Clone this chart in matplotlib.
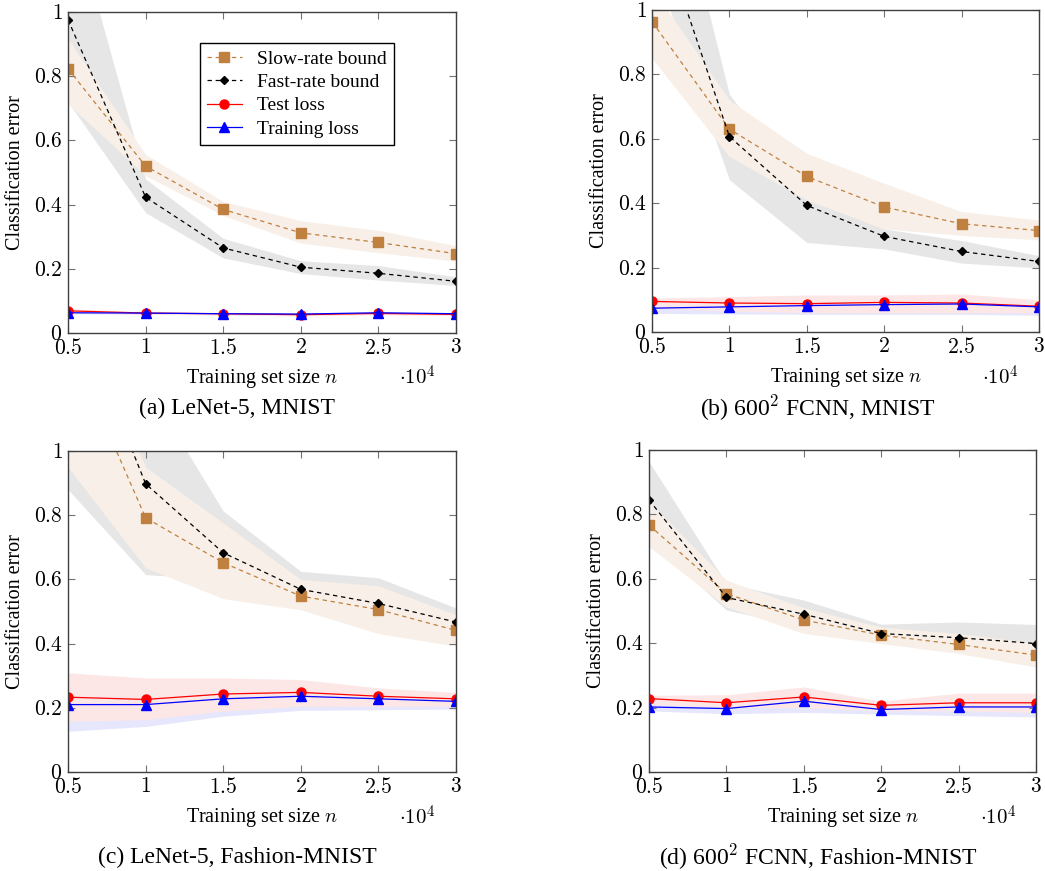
import numpy as np
import matplotlib
matplotlib.use("Agg")
import matplotlib.pyplot as plt
from matplotlib.ticker import FuncFormatter

plt.rcParams['font.family'] = ['Liberation Serif', 'DejaVu Serif']
plt.rcParams['mathtext.fontset'] = 'cm'

n = np.array([5000, 10000, 15000, 20000, 25000, 30000])

# (a) LeNet-5, MNIST
a_slow = [0.823, 0.520, 0.385, 0.312, 0.282, 0.247]
a_slow_lo = [0.714, 0.490, 0.366, 0.280, 0.250, 0.224]
a_slow_hi = [0.917, 0.556, 0.410, 0.350, 0.320, 0.272]
a_fast = [0.976, 0.423, 0.265, 0.205, 0.186, 0.161]
a_fast_lo = [0.720, 0.375, 0.234, 0.185, 0.165, 0.148]
a_fast_hi = [1.350, 0.480, 0.295, 0.225, 0.210, 0.175]
a_test = [0.069, 0.062, 0.060, 0.057, 0.061, 0.058]
a_test_lo = [0.062, 0.058, 0.056, 0.053, 0.057, 0.054]
a_test_hi = [0.076, 0.066, 0.064, 0.061, 0.065, 0.062]
a_train = [0.063, 0.062, 0.060, 0.059, 0.063, 0.060]
a_train_lo = [0.060, 0.059, 0.057, 0.056, 0.060, 0.057]
a_train_hi = [0.066, 0.065, 0.063, 0.062, 0.066, 0.063]

# (b) 600^2 FCNN, MNIST
b_slow = [0.964, 0.630, 0.483, 0.388, 0.336, 0.315]
b_slow_lo = [0.850, 0.545, 0.410, 0.320, 0.300, 0.286]
b_slow_hi = [1.070, 0.720, 0.555, 0.462, 0.374, 0.348]
b_fast = [1.319, 0.607, 0.393, 0.297, 0.250, 0.219]
b_fast_lo = [1.159, 0.473, 0.278, 0.258, 0.214, 0.199]
b_fast_hi = [1.700, 0.738, 0.420, 0.320, 0.284, 0.237]
b_test = [0.095, 0.090, 0.088, 0.092, 0.090, 0.080]
b_test_lo = [0.075, 0.065, 0.060, 0.060, 0.060, 0.060]
b_test_hi = [0.105, 0.110, 0.115, 0.115, 0.118, 0.100]
b_train = [0.074, 0.078, 0.082, 0.085, 0.087, 0.078]
b_train_lo = [0.058, 0.056, 0.055, 0.055, 0.055, 0.052]
b_train_hi = [0.090, 0.092, 0.095, 0.098, 0.100, 0.092]

# (c) LeNet-5, Fashion-MNIST
c_slow = [1.345, 0.792, 0.652, 0.548, 0.506, 0.441]
c_slow_lo = [0.950, 0.636, 0.540, 0.505, 0.431, 0.392]
c_slow_hi = [1.500, 0.950, 0.776, 0.600, 0.580, 0.490]
c_fast = [1.500, 0.898, 0.683, 0.569, 0.525, 0.467]
c_fast_lo = [0.880, 0.615, 0.600, 0.520, 0.450, 0.420]
c_fast_hi = [1.600, 1.210, 0.813, 0.625, 0.605, 0.511]
c_test = [0.233, 0.226, 0.243, 0.248, 0.236, 0.228]
c_test_lo = [0.158, 0.163, 0.190, 0.205, 0.205, 0.205]
c_test_hi = [0.309, 0.293, 0.293, 0.288, 0.262, 0.248]
c_train = [0.210, 0.210, 0.228, 0.236, 0.228, 0.220]
c_train_lo = [0.127, 0.142, 0.174, 0.192, 0.194, 0.196]
c_train_hi = [0.260, 0.250, 0.250, 0.255, 0.245, 0.235]

# (d) 600^2 FCNN, Fashion-MNIST
d_slow = [0.767, 0.554, 0.472, 0.425, 0.396, 0.363]
d_slow_lo = [0.700, 0.513, 0.430, 0.399, 0.368, 0.326]
d_slow_hi = [0.840, 0.596, 0.510, 0.450, 0.430, 0.400]
d_fast = [0.845, 0.542, 0.490, 0.430, 0.417, 0.399]
d_fast_lo = [0.720, 0.503, 0.450, 0.405, 0.390, 0.370]
d_fast_hi = [0.964, 0.585, 0.534, 0.459, 0.466, 0.458]
d_test = [0.228, 0.215, 0.233, 0.207, 0.215, 0.215]
d_test_lo = [0.210, 0.200, 0.200, 0.190, 0.190, 0.185]
d_test_hi = [0.238, 0.240, 0.264, 0.220, 0.245, 0.245]
d_train = [0.202, 0.197, 0.220, 0.194, 0.202, 0.202]
d_train_lo = [0.190, 0.181, 0.185, 0.180, 0.175, 0.171]
d_train_hi = [0.215, 0.210, 0.230, 0.205, 0.210, 0.210]

captions = ["(a) LeNet-5, MNIST", "(b) 600$^2$ FCNN, MNIST",
            "(c) LeNet-5, Fashion-MNIST", "(d) 600$^2$ FCNN, Fashion-MNIST"]

panels = [
    (a_slow, a_slow_lo, a_slow_hi, a_fast, a_fast_lo, a_fast_hi,
     a_test, a_test_lo, a_test_hi, a_train, a_train_lo, a_train_hi),
    (b_slow, b_slow_lo, b_slow_hi, b_fast, b_fast_lo, b_fast_hi,
     b_test, b_test_lo, b_test_hi, b_train, b_train_lo, b_train_hi),
    (c_slow, c_slow_lo, c_slow_hi, c_fast, c_fast_lo, c_fast_hi,
     c_test, c_test_lo, c_test_hi, c_train, c_train_lo, c_train_hi),
    (d_slow, d_slow_lo, d_slow_hi, d_fast, d_fast_lo, d_fast_hi,
     d_test, d_test_lo, d_test_hi, d_train, d_train_lo, d_train_hi),
]

brown = '#bf8040'
W, H = 1045, 871
fig = plt.figure(figsize=(W / 100, H / 100), dpi=100)

# axes boxes in pixels: left, top, right, bottom
boxes = [(68, 12, 456, 333), (652, 10, 1039, 332),
         (68, 451, 456, 772), (649, 450, 1036, 772)]
cap_pos = [(237, 408), (818, 408), (237, 857), (818, 857)]
exp_pos = [(417, 378), (1000, 378), (417, 818), (998, 818)]

x = n / 1e4
for i, (box, data) in enumerate(zip(boxes, panels)):
    l, t, r, b = box
    ax = fig.add_axes([l / W, 1 - b / H, (r - l) / W, (b - t) / H])
    (slow, slow_lo, slow_hi, fast, fast_lo, fast_hi,
     test, test_lo, test_hi, train, train_lo, train_hi) = data

    # shaded ranges (flat colours, later ones cover earlier ones)
    ax.fill_between(x, fast_lo, fast_hi, color='#e6e6e6', lw=0)
    ax.fill_between(x, slow_lo, slow_hi, color='#f8f0e8', lw=0)
    ax.fill_between(x, train_lo, train_hi, color='#e6e6fd', lw=0)
    ax.fill_between(x, test_lo, test_hi, color='#fde6e6', lw=0)

    ax.plot(x, slow, color=brown, ls=(0, (3.5, 3)), lw=0.9, marker='s', ms=6.5,
            label='Slow-rate bound')
    ax.plot(x, fast, color='black', ls=(0, (3.5, 3)), lw=0.9, marker='D', ms=4,
            label='Fast-rate bound')
    ax.plot(x, test, color='red', lw=0.9, marker='o', ms=6.5, label='Test loss')
    ax.plot(x, train, color='blue', lw=0.9, marker='^', ms=6.5, label='Training loss')

    ax.set_xlim(0.5, 3)
    ax.set_ylim(0, 1)
    ax.set_xticks(x)
    ax.set_yticks([0, 0.2, 0.4, 0.6, 0.8, 1])
    fmt = FuncFormatter(lambda v, p: '$%g$' % round(v, 2))
    ax.xaxis.set_major_formatter(fmt)
    ax.yaxis.set_major_formatter(fmt)
    ax.tick_params(direction='in', top=True, right=True, length=5, width=0.8,
                   color='0.45', labelsize=15.5, pad=4)
    for s in ax.spines.values():
        s.set_color('0.25')
        s.set_linewidth(1.0)

    ax.set_xlabel('Training set size $n$', fontsize=14.5)
    ax.xaxis.set_label_coords(0.5, -0.105)
    ax.set_ylabel('Classification error', fontsize=14.5)
    ax.yaxis.set_label_coords(-0.112, 0.5)

    fig.text(exp_pos[i][0] / W, 1 - exp_pos[i][1] / H, r'$\cdot 10^{4}$',
             fontsize=15, ha='center', va='center')
    fig.text(cap_pos[i][0] / W, 1 - cap_pos[i][1] / H, captions[i],
             fontsize=17, ha='center', va='center')

    if i == 0:
        leg = ax.legend(loc='upper right', bbox_to_anchor=(0.84, 0.903),
                        fontsize=14, fancybox=False, edgecolor='black',
                        framealpha=1, handlelength=1.8, labelspacing=0.3,
                        borderpad=0.35, handletextpad=0.8, borderaxespad=0)
        leg.get_frame().set_linewidth(1.0)

fig.savefig('out.png', dpi=100)
